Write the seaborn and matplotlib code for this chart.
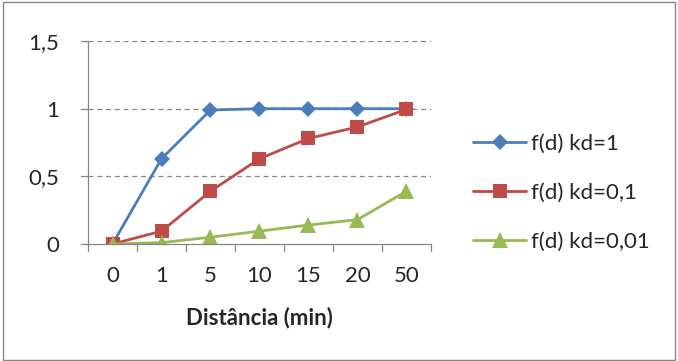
import pandas as pd
import matplotlib.pyplot as plt
import seaborn as sns
from matplotlib.patches import Rectangle

# --- DATA ---
distancias = ["0", "1", "5", "10", "15", "20", "50"]
kd_1 = [0.0, 0.63, 0.99, 1.0, 1.0, 1.0, 1.0]
kd_01 = [0.0, 0.095, 0.39, 0.63, 0.78, 0.865, 0.995]
kd_001 = [0.0, 0.01, 0.05, 0.095, 0.14, 0.18, 0.39]
series_names = ["f(d) kd=1", "f(d) kd=0,1", "f(d) kd=0,01"]

rows = []
for name, vals in zip(series_names, [kd_1, kd_01, kd_001]):
    for d, v in zip(distancias, vals):
        rows.append({"dist": d, "f": v, "serie": name})
df = pd.DataFrame(rows)

sns.set_style("white")
plt.rcParams['font.family'] = ['Lato', 'DejaVu Sans']

palette = {series_names[0]: "#4A7EBB", series_names[1]: "#BE4B48", series_names[2]: "#98B954"}
markers = {series_names[0]: "D", series_names[1]: "s", series_names[2]: "^"}
sizes = {series_names[0]: 8.5, series_names[1]: 10, series_names[2]: 11}

FS = 16
fig = plt.figure(figsize=(6.78, 3.61), dpi=100)
ax = fig.add_axes([88 / 678, 1 - 244 / 361, (431 - 88) / 678, (244 - 41) / 361])

sns.lineplot(data=df, x="dist", y="f", hue="serie", style="serie", palette=palette,
             markers=markers, dashes=False, sort=False, linewidth=2, ax=ax,
             markeredgewidth=0)
for line, name in zip(ax.get_lines(), series_names):
    line.set_markersize(sizes[name])

ax.set_xlim(-0.5, len(distancias) - 0.5)
ax.set_ylim(0, 1.5)
ax.set_yticks([0, 0.5, 1, 1.5])
ax.set_yticklabels(["0", "0,5", "1", "1,5"])
ax.set_xticks(range(len(distancias)))
ax.set_xticklabels(distancias)
ax.tick_params(axis="both", labelsize=FS, length=0)
ax.tick_params(axis="x", pad=16)
ax.tick_params(axis="y", pad=21)

# gridlines dashed grey
for yv in [0.5, 1.0, 1.5]:
    ax.axhline(yv, color="#868686", linestyle=(0, (4, 3)), linewidth=0.9, zorder=0)

for s in ["top", "right"]:
    ax.spines[s].set_visible(False)
for s in ["left", "bottom"]:
    ax.spines[s].set_color("#868686")
    ax.spines[s].set_linewidth(0.9)

# Excel-style tick marks between categories and at y values
for i in range(len(distancias) + 1):
    ax.plot([i - 0.5, i - 0.5], [0, -0.05], color="#868686", lw=0.9, clip_on=False)
for yv in [0, 0.5, 1.0, 1.5]:
    ax.plot([-0.5, -0.65], [yv, yv], color="#868686", lw=0.9, clip_on=False)

ax.set_xlabel("Distância (min)", fontsize=FS, fontweight="bold", labelpad=15)
ax.set_ylabel("")

handles, labels = ax.get_legend_handles_labels()
for h, name in zip(handles, labels):
    h.set_markersize(sizes[name])
ax.legend(handles, labels, loc="center left", bbox_to_anchor=(464 / 678, 1 - 193 / 361),
          bbox_transform=fig.transFigure, frameon=False, fontsize=FS, borderaxespad=0,
          handlelength=2.4, labelspacing=1.3, handletextpad=0.2)

fig.patches.append(Rectangle((3 / 678, 1 / 361), 672 / 678, 358 / 361, transform=fig.transFigure,
                             fill=False, edgecolor="#868686", linewidth=1))

plt.savefig("out.png", dpi=100)
